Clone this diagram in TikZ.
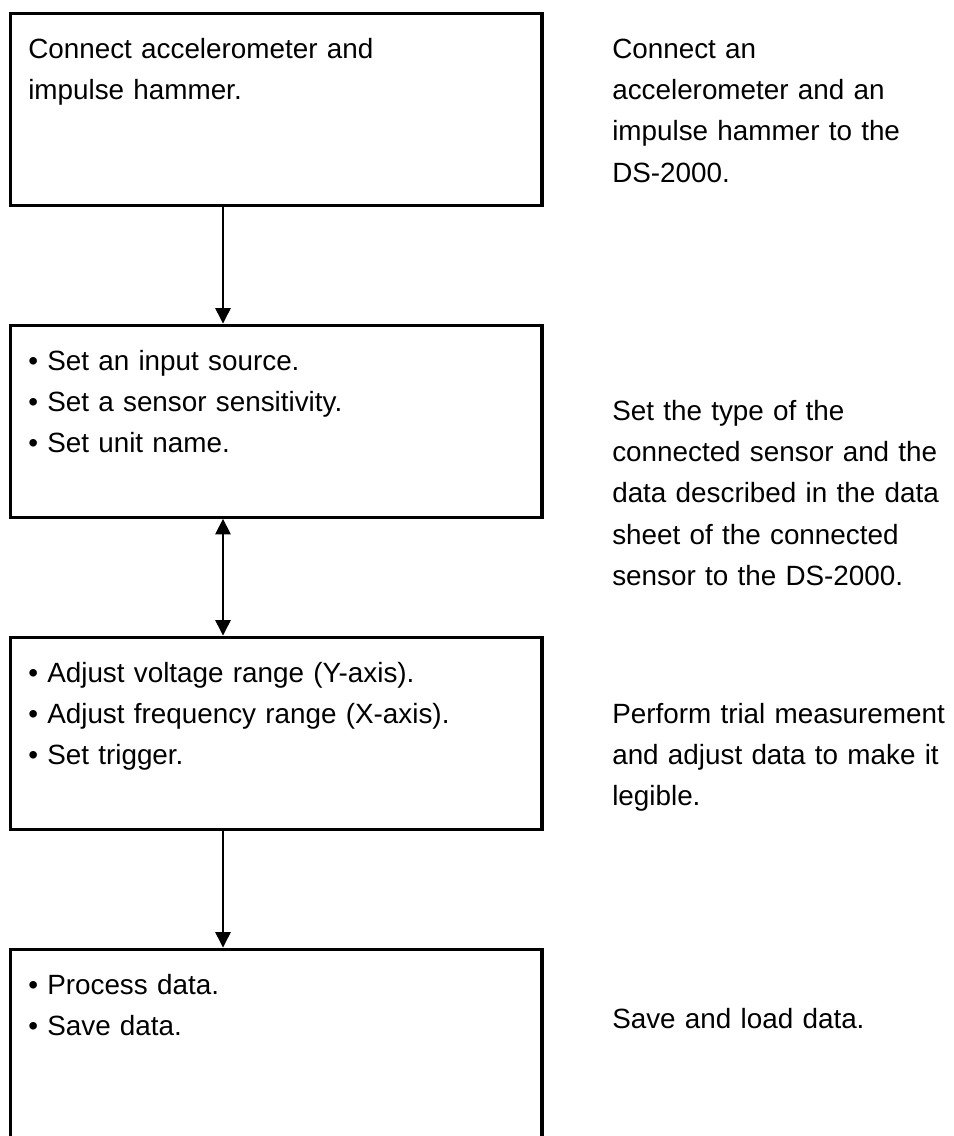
\documentclass[tikz,border=0pt]{standalone}
\usepackage{fontspec}
\setmainfont{Liberation Sans}
\usetikzlibrary{arrows.meta}

\begin{document}
\begin{tikzpicture}[
  font=\fontsize{19.8pt}{29.5pt}\selectfont,
  >={Triangle[width=11pt,length=11pt]},
  stepbox/.style={draw, line width=2.4pt, minimum width=13.28cm, minimum height=4.8cm, anchor=north west, inner sep=0pt},
  steptext/.style={anchor=base west, inner sep=0pt, text width=11.5cm, align=left},
  notetext/.style={anchor=base west, inner sep=0pt, text width=8.4cm, align=left},
  flow/.style={line width=1pt}]

\useasboundingbox (0,0) rectangle (23.85,-28.4);

% Boxes
\node[stepbox] (connect) at (0.228,-0.288) {};
\node[stepbox] (sensor) at (0.228,-8.088) {};
\node[stepbox] (range) at (0.228,-15.888) {};
\node[stepbox] (save) at (0.228,-23.688) {};

% Box texts
\node[steptext] (connecttext) at (0.7,-1.45) {Connect accelerometer and\\impulse hammer.};
\node[steptext] (sensortext) at (0.7,-9.25) {• Set an input source.\\• Set a sensor sensitivity.\\• Set unit name.};
\node[steptext] (rangetext) at (0.7,-17.05) {• Adjust voltage range (Y-axis).\\• Adjust frequency range (X-axis).\\• Set trigger.};
\node[steptext] (savetext) at (0.7,-24.85) {• Process data.\\• Save data.};

% Notes
\node[notetext] (connectnote) at (15.3,-1.45) {Connect an\\accelerometer and an\\impulse hammer to the\\DS-2000.};
\node[notetext] (sensornote) at (15.3,-10.5) {Set the type of the\\connected sensor and the\\data described in the data\\sheet of the connected\\sensor to the DS-2000.};
\node[notetext] (rangenote) at (15.3,-18.075) {Perform trial measurement\\and adjust data to make it\\legible.};
\node[notetext] (savenote) at (15.3,-25.7) {Save and load data.};

% Arrows
\coordinate (axis) at (5.575,0);
\draw[flow, ->] (connect.south -| axis) -- (sensor.north -| axis);
\draw[flow, <->] (sensor.south -| axis) -- (range.north -| axis);
\draw[flow, ->] (range.south -| axis) -- (save.north -| axis);

\end{tikzpicture}
\end{document}
